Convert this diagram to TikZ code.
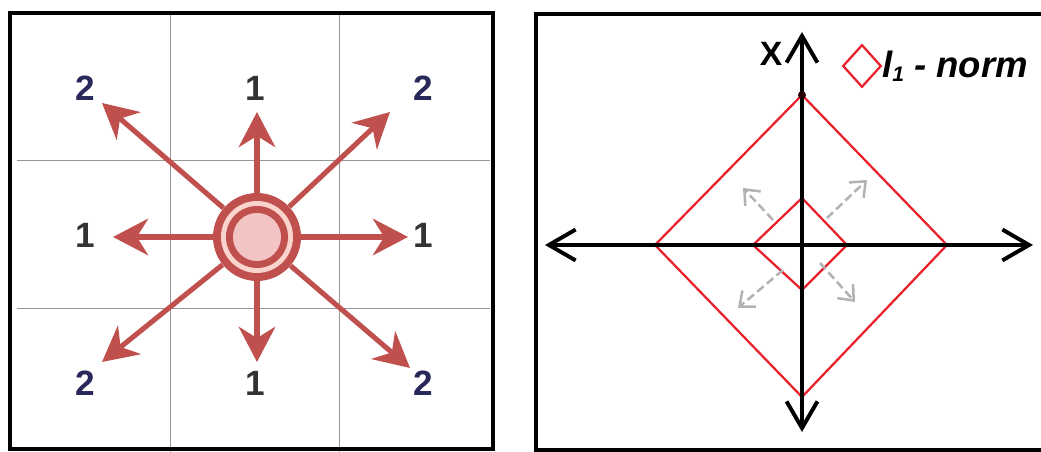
\documentclass[tikz,border=0pt]{standalone}
\usepackage{fontspec}
\setmainfont{Liberation Sans}
\usetikzlibrary{arrows.meta,positioning}
\definecolor{arrowred}{RGB}{192,80,77}
\definecolor{ringpink}{RGB}{250,212,204}
\definecolor{corepink}{RGB}{242,196,196}
\definecolor{numnavy}{RGB}{40,40,90}
\definecolor{numgray}{RGB}{51,51,51}
\definecolor{normred}{RGB}{232,32,42}
\definecolor{gridgray}{RGB}{150,150,150}
\tikzset{
  frame/.style={line width=2.8pt},
  gridline/.style={gridgray, line width=0.7pt},
  spoke/.style={arrowred, line width=3.6pt, -{Stealth[length=25pt,width=26pt,inset=8pt]}},
  cellnum/.style={font=\bfseries\fontsize{25}{25}\selectfont, inner sep=0pt},
  axis/.style={line width=2.8pt, {Straight Barb[length=19pt,width=22pt]}-{Straight Barb[length=19pt,width=22pt]}},
  normline/.style={normred, line width=1.6pt},
  growth/.style={black!30, dash pattern=on 6pt off 3pt, line width=1.8pt, -{Straight Barb[length=9pt,width=15pt]}}
}
\begin{document}
\begin{tikzpicture}
            \useasboundingbox (0,0) rectangle (26.025,11.3);
            % left panel: neighbourhood grid
            \foreach \gx in {4.25,8.475}
                \draw [gridline] (\gx,10.93) -- (\gx,0);
            \foreach \gy in {7.275,3.575}
                \draw [gridline] (0.42,\gy) -- (12.25,\gy);
            \draw [frame] (0.26,0.07) rectangle (12.33,10.97);
            \node (src) [circle, minimum size=2.2cm, inner sep=0pt] at (6.425,5.375) {};
            \fill [arrowred] (src) circle (1.1);
            \fill [ringpink] (src) circle (0.9);
            \fill [arrowred] (src) circle (0.775);
            \fill [corepink] (src) circle (0.6);
            \coordinate (tipN) at (6.425,8.5);
            \coordinate (tipS) at (6.425,2.25);
            \coordinate (tipW) at (2.825,5.375);
            \coordinate (tipE) at (10.2,5.375);
            \coordinate (tipNW) at (2.55,8.725);
            \coordinate (tipNE) at (9.75,8.5);
            \coordinate (tipSW) at (2.55,2.25);
            \coordinate (tipSE) at (10.25,2.1);
            \foreach \t in {tipN,tipS,tipW,tipE,tipNW,tipNE,tipSW,tipSE}
                \draw [spoke] (src) -- (\t);
            \node (numNW) [cellnum, numnavy] at (2.125,9.1) {2};
            \node (numN) [cellnum, numgray] at (6.375,9.1) {1};
            \node (numNE) [cellnum, numnavy] at (10.575,9.1) {2};
            \node (numW) [cellnum, numgray] at (2.125,5.425) {1};
            \node (numE) [cellnum, numgray] at (10.575,5.425) {1};
            \node (numSW) [cellnum, numnavy] at (2.125,1.725) {2};
            \node (numS) [cellnum, numgray] at (6.375,1.725) {1};
            \node (numSE) [cellnum, numnavy] at (10.575,1.725) {2};
            % right panel: l1 balls
            \draw [frame] (26.4,10.94) -- (13.4,10.94) -- (13.4,0.06) -- (26.4,0.06);
            \coordinate (O) at (20.05,5.175);
            \coordinate (axW) at (13.625,5.175);
            \coordinate (axE) at (25.825,5.175);
            \coordinate (axN) at (20.05,10.5);
            \coordinate (axS) at (20.05,0.5);
            \draw [normline] (16.375,5.175) -- (20.05,8.925) -- (23.675,5.175) -- (20.05,1.375) -- cycle;
            \draw [normline] (18.825,5.175) -- (20.05,6.35) -- (21.175,5.175) -- (20.05,4.05) -- cycle;
            \draw [growth] (20.675,5.85) -- (21.675,6.8);
            \draw [growth] (19.325,5.8) -- (18.575,6.6);
            \draw [growth] (19.575,4.55) -- (18.45,3.6);
            \draw [growth] (20.5,4.725) -- (21.375,3.75);
            \draw [axis] (axW) -- (axE);
            \draw [axis] (axS) -- (axN);
            \fill [black!85!red] (20.05,8.925) circle (0.1);
            \node (xlab) [font=\bfseries\fontsize{24}{24}\selectfont, inner sep=0pt] at (19.28,9.95) {X};
            \coordinate (key) at (21.55,9.65);
            \draw [normline] (key) ++(0,0.52) -- ++(0.47,-0.52) -- ++(-0.47,-0.52) -- ++(-0.47,0.52) -- cycle;
            \node (keytxt) [right=0.5cm of key, inner sep=0pt, font=\bfseries\itshape\fontsize{26}{26}\selectfont] {l\raisebox{-3pt}{\fontsize{15}{15}\selectfont 1} - norm};
        \end{tikzpicture}
\end{document}
